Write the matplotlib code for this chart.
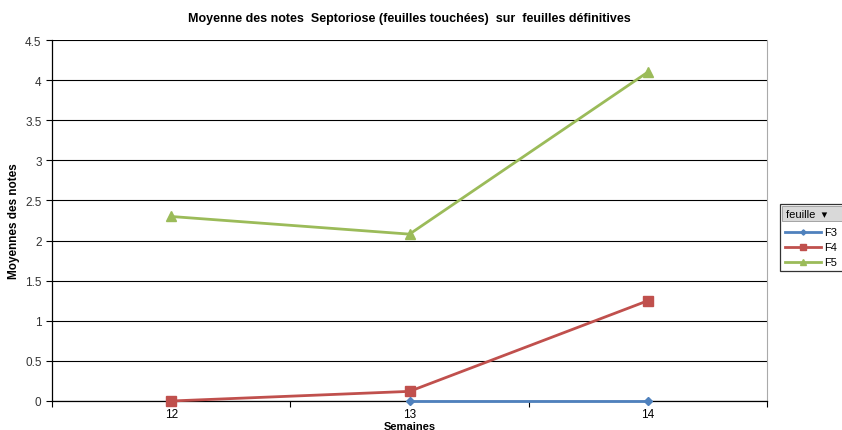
import numpy as np
import matplotlib.pyplot as plt
from matplotlib.patches import Rectangle

plt.rcParams['font.family'] = ['Liberation Sans', 'DejaVu Sans']

semaines = [12, 13, 14]
f3 = [np.nan, 0.0, 0.0]
f4 = [0.0, 0.12, 1.25]
f5 = [2.3, 2.08, 4.1]

fig = plt.figure(figsize=(8.42, 4.31), dpi=100)
ax = fig.add_axes([52/842, 29/431, 715/842, 361/431])

x = np.arange(len(semaines))
ax.plot(x, f3, color='#4F81BD', lw=2, marker='D', ms=4.5, label='F3', zorder=5, clip_on=False)
ax.plot(x, f4, color='#C0504D', lw=2, marker='s', ms=6.5, label='F4', zorder=4, clip_on=False)
ax.plot(x, f5, color='#9BBB59', lw=2, marker='^', ms=7, label='F5', zorder=3, clip_on=False)

ax.set_xlim(-0.5, 2.5)
ax.set_ylim(0, 4.5)
ax.set_yticks(np.arange(0, 4.51, 0.5))
ax.set_yticklabels(['0', '0.5', '1', '1.5', '2', '2.5', '3', '3.5', '4', '4.5'])
ax.set_xticks(x)
ax.set_xticklabels([str(s) for s in semaines])
ax.set_xticks([-0.5, 0.5, 1.5, 2.5], minor=True)
ax.tick_params(axis='x', which='major', length=0, labelsize=8.5, pad=5)
ax.tick_params(axis='x', which='minor', length=4, direction='out', width=0.8)
ax.tick_params(axis='y', length=4, width=0.8, labelsize=8.5, labelcolor='#333333')
ax.yaxis.grid(True, color='black', lw=0.8)
ax.set_axisbelow(True)

ax.spines['top'].set_visible(False)
ax.spines['right'].set_color('#aaaaaa')
ax.spines['left'].set_linewidth(0.9)
ax.spines['bottom'].set_linewidth(0.9)

ax.set_title('Moyenne des notes  Septoriose (feuilles touchées)  sur  feuilles définitives',
             fontsize=9, fontweight='bold', pad=14)
ax.set_ylabel('Moyennes des notes', fontsize=8.5, fontweight='bold', labelpad=4)
ax.set_xlabel('Semaines', fontsize=8, fontweight='bold', labelpad=1)

# légende à droite, avec en-tête "feuille"
fig.patches.append(Rectangle((780/842, 159/431), 70/842, 67/431, transform=fig.transFigure,
                             facecolor='white', edgecolor='#333333', lw=0.9))
fig.patches.append(Rectangle((782/842, 209/431), 62/842, 15/431, transform=fig.transFigure,
                             facecolor='#d9d9d9', edgecolor='#999999', lw=0.6))
fig.text(786/842, 216/431, 'feuille  \u25be', fontsize=8, va='center', ha='left')
leg = fig.legend(loc='upper left', bbox_to_anchor=(781/842, 207/431), frameon=False,
                 fontsize=8, handlelength=3.2, handletextpad=0.3, labelspacing=0.45,
                 borderaxespad=0, markerscale=0.6)

fig.savefig('out.png', dpi=100)
